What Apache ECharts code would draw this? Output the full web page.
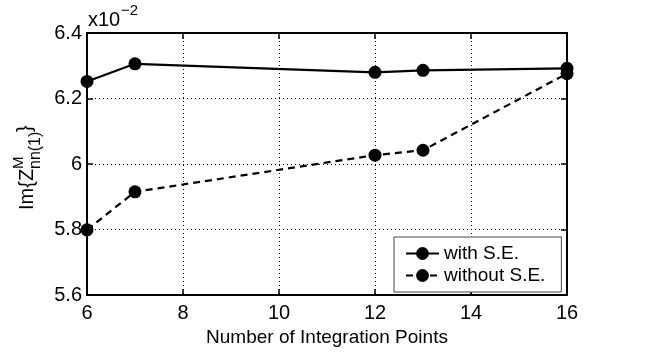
<!DOCTYPE html>
<html>
<head>
<meta charset="utf-8">
<script src="https://cdn.jsdelivr.net/npm/echarts@6/dist/echarts.min.js"></script>
<style>html,body{margin:0;padding:0;background:#fff}#c{width:653px;height:352px}</style>
</head>
<body>
<div id="c"></div>
<script>
const xPoints = [6, 7, 12, 13, 16];
const withSE = [6.252, 6.306, 6.280, 6.286, 6.292];
const withoutSE = [5.799, 5.915, 6.027, 6.042, 6.276];
const seriesNames = ['with S.E.', 'without S.E.'];
const xTitle = 'Number of Integration Points';

const F = 'Liberation Sans, Arial, Helvetica, sans-serif';
const chart = echarts.init(document.getElementById('c'));
const pair = (xs, ys) => xs.map((x, i) => [x, ys[i]]);
const axLine = {show: true, onZero: false, lineStyle: {color: '#000', width: 2}};
const tick = {show: true, inside: true, length: 6, lineStyle: {color: '#000', width: 1.5}};
chart.setOption({
  animation: false,
  backgroundColor: '#fff',
  grid: {left: 87, right: 86, top: 33, bottom: 57, containLabel: false},
  xAxis: [
    {type: 'value', min: 6, max: 16, interval: 2, position: 'bottom',
     name: xTitle, nameLocation: 'middle', nameGap: 30,
     nameTextStyle: {fontFamily: F, fontSize: 19, color: '#000'},
     axisLine: axLine, axisTick: tick,
     axisLabel: {fontFamily: F, fontSize: 20, color: '#000', margin: 8},
     splitLine: {show: true, lineStyle: {color: '#000', width: 1, type: [1, 3]}}},
    {type: 'value', min: 6, max: 16, interval: 2, position: 'top',
     axisLine: axLine, axisTick: tick, axisLabel: {show: false}, splitLine: {show: false}}
  ],
  yAxis: [
    {type: 'value', min: 5.6, max: 6.4, interval: 0.2, position: 'left',
     axisLine: axLine, axisTick: tick,
     axisLabel: {fontFamily: F, fontSize: 20, color: '#000', margin: 5},
     splitLine: {show: true, lineStyle: {color: '#000', width: 1, type: [1, 3]}}},
    {type: 'value', min: 5.6, max: 6.4, interval: 0.2, position: 'right',
     axisLine: axLine, axisTick: tick, axisLabel: {show: false}, splitLine: {show: false}}
  ],
  legend: {
    orient: 'vertical', left: 394, top: 237,
    padding: [7, 16, 7, 11], itemGap: 3, itemWidth: 33, itemHeight: 16,
    backgroundColor: '#fff', borderColor: '#444', borderWidth: 1, borderRadius: 0,
    textStyle: {fontFamily: F, fontSize: 19, color: '#000', lineHeight: 16},
    data: seriesNames
  },
  series: [
    {name: seriesNames[0], type: 'line', data: pair(xPoints, withSE),
     symbol: 'circle', symbolSize: 13, itemStyle: {color: '#000'},
     lineStyle: {color: '#000', width: 2.2, type: 'solid'}},
    {name: seriesNames[1], type: 'line', data: pair(xPoints, withoutSE),
     symbol: 'circle', symbolSize: 13, itemStyle: {color: '#000'},
     lineStyle: {color: '#000', width: 2.2, type: [7, 5]}}
  ],
  graphic: [
    {type: 'text', left: 88, top: 10, style: {text: 'x10', font: '20px ' + F, fill: '#000'}},
    {type: 'text', left: 121, top: 3, style: {text: '\u22122', font: '15px ' + F, fill: '#000'}},
    {type: 'group', x: 27, y: 166, rotation: Math.PI / 2, children: [
      {type: 'text', x: -44, y: 0, style: {text: 'Im{Z', font: '20px ' + F, fill: '#000', align: 'left', verticalAlign: 'middle'}},
      {type: 'text', x: -3, y: -8, style: {text: 'M', font: '15px ' + F, fill: '#000', align: 'left', verticalAlign: 'middle'}},
      {type: 'text', x: -3, y: 9, style: {text: 'nn(1)', font: '16px ' + F, fill: '#000', align: 'left', verticalAlign: 'middle'}},
      {type: 'text', x: 34, y: -2, style: {text: '}', font: '20px ' + F, fill: '#000', align: 'left', verticalAlign: 'middle'}}
    ]}
  ]
});
</script>
</body>
</html>
